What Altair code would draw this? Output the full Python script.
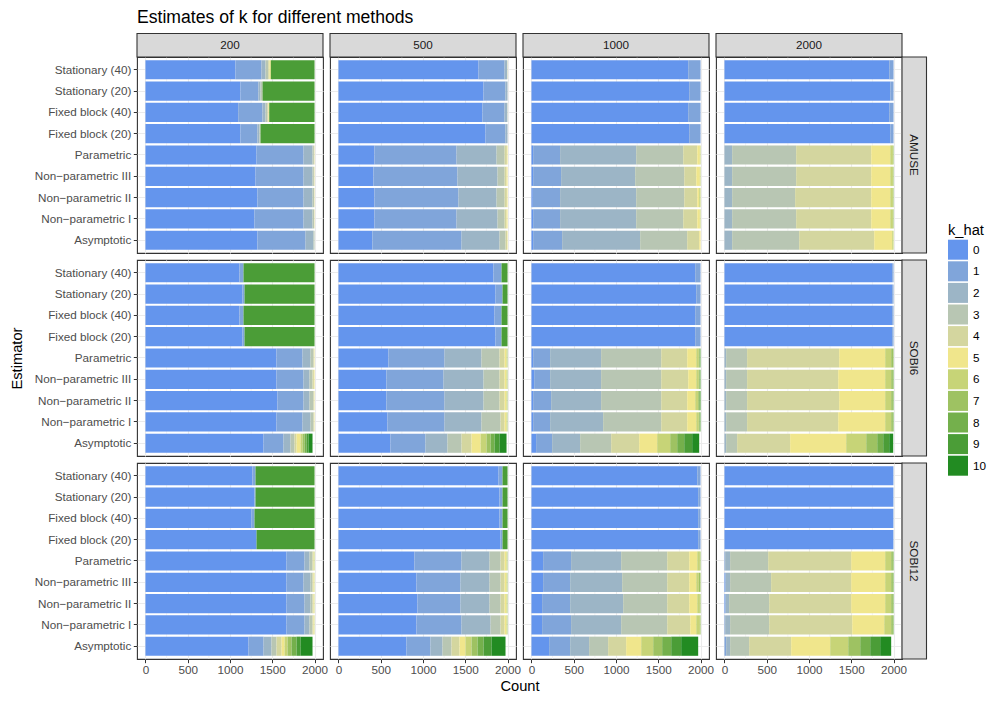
import altair as alt
import pandas as pd

FONT = "Liberation Sans"

METHODS = ["AMUSE", "SOBI6", "SOBI12"]
SIZES = ["200", "500", "1000", "2000"]
ESTIMATORS = ["Stationary (40)", "Stationary (20)", "Fixed block (40)", "Fixed block (20)",
              "Parametric", "Non\u2212parametric III", "Non\u2212parametric II",
              "Non\u2212parametric I", "Asymptotic"]
K_HAT = list(range(11))
COLORS = ["#6495ED", "#80A5DA", "#9CB5C6", "#B8C6B3", "#D4D69F", "#F0E68C",
          "#C7D477", "#9EC262", "#74B04C", "#4B9D37", "#228B22"]
X_TICKS = [0, 500, 1000, 1500, 2000]
MINOR_TICKS = [250, 750, 1250, 1750]

# counts of k_hat = 0..10, rows in ESTIMATORS order
AMUSE_200 = [
    [1065, 308, 47, 32, 15, 16, 0, 0, 0, 517, 0],
    [1124, 213, 24, 24, 0, 0, 0, 0, 0, 615, 0],
    [1097, 288, 35, 24, 10, 10, 0, 0, 0, 536, 0],
    [1124, 201, 24, 12, 0, 0, 0, 0, 0, 639, 0],
    [1314, 556, 106, 16, 6, 2],
    [1302, 568, 106, 16, 6, 2],
    [1325, 545, 106, 18, 4, 2],
    [1290, 580, 106, 18, 4, 2],
    [1325, 569, 94, 12],
]
AMUSE_500 = [
    [1657, 308, 29, 4, 2],
    [1716, 260, 24],
    [1704, 261, 31, 4],
    [1740, 236, 24],
    [426, 971, 473, 95, 27, 8],
    [414, 994, 474, 83, 23, 12],
    [426, 994, 450, 95, 27, 8],
    [426, 971, 485, 83, 23, 12],
    [402, 1054, 449, 71, 18, 6],
]
AMUSE_1000 = [
    [1854, 146],
    [1866, 134],
    [1854, 146],
    [1866, 134],
    [20, 319, 900, 556, 166, 31, 8],
    [20, 331, 876, 580, 142, 43, 8],
    [16, 323, 900, 568, 154, 23, 16],
    [20, 319, 900, 556, 166, 31, 8],
    [20, 343, 923, 556, 142, 16],
]
AMUSE_2000 = [
    [1949, 51],
    [1961, 39],
    [1949, 51],
    [1961, 39],
    [0, 0, 91, 757, 888, 225, 31, 8],
    [0, 0, 91, 757, 888, 225, 31, 8],
    [0, 0, 91, 745, 900, 225, 31, 8],
    [0, 0, 91, 757, 888, 225, 31, 8],
    [0, 0, 91, 793, 887, 213, 16],
]
SOBI6_200 = [
    [1112, 48, 0, 0, 0, 0, 0, 0, 0, 840, 0],
    [1148, 24, 0, 0, 0, 0, 0, 0, 0, 828, 0],
    [1112, 48, 0, 0, 0, 0, 0, 0, 0, 840, 0],
    [1148, 24, 0, 0, 0, 0, 0, 0, 0, 828, 0],
    [1550, 308, 95, 35, 8, 4],
    [1550, 320, 71, 35, 16, 8],
    [1562, 308, 71, 47, 8, 4],
    [1550, 308, 95, 35, 8, 4],
    [1397, 236, 83, 47, 24, 47, 24, 24, 23, 24, 47],
]
SOBI6_500 = [
    [1834, 95, 0, 0, 0, 0, 0, 0, 0, 71, 0],
    [1858, 83, 0, 0, 0, 0, 0, 0, 0, 59, 0],
    [1846, 83, 0, 0, 0, 0, 0, 0, 0, 71, 0],
    [1858, 71, 0, 0, 0, 0, 0, 0, 0, 71, 0],
    [592, 663, 437, 213, 60, 23, 8, 4],
    [568, 675, 473, 189, 60, 23, 8, 4],
    [568, 687, 461, 189, 60, 23, 8, 4],
    [580, 675, 437, 225, 48, 23, 8, 4],
    [615, 415, 260, 166, 118, 107, 71, 47, 47, 59, 83],
]
SOBI6_1000 = [
    [1937, 63],
    [1949, 51],
    [1937, 63],
    [1937, 63],
    [20, 201, 603, 711, 307, 107, 31, 8, 8, 4],
    [32, 189, 603, 711, 319, 95, 31, 8, 8, 4],
    [20, 213, 591, 711, 307, 95, 35, 12, 8, 8],
    [20, 201, 627, 687, 307, 107, 31, 8, 8, 4],
    [55, 190, 331, 367, 331, 213, 154, 83, 83, 94, 83],
]
SOBI6_2000 = [
    [1984, 16],
    [1984, 16],
    [1984, 16],
    [1984, 16],
    [0, 0, 20, 248, 1089, 544, 71, 24, 4],
    [0, 0, 20, 248, 1077, 556, 71, 20, 8],
    [0, 0, 20, 248, 1089, 544, 71, 20, 8],
    [0, 0, 20, 248, 1077, 556, 71, 20, 8],
    [0, 0, 20, 130, 627, 663, 237, 130, 71, 71, 47],
]
SOBI12_200 = [
    [1266, 36, 0, 0, 0, 0, 0, 0, 0, 698, 0],
    [1290, 12, 0, 0, 0, 0, 0, 0, 0, 698, 0],
    [1255, 35, 0, 0, 0, 0, 0, 0, 0, 710, 0],
    [1314, 0, 0, 0, 0, 0, 0, 0, 0, 686, 0],
    [1669, 213, 59, 35, 12, 4, 8],
    [1669, 201, 83, 23, 12, 8, 4],
    [1669, 213, 71, 23, 12, 8, 4],
    [1669, 213, 59, 35, 12, 8, 4],
    [1219, 178, 94, 59, 60, 35, 36, 47, 59, 47, 142],
]
SOBI12_500 = [
    [1894, 47, 0, 0, 0, 0, 0, 0, 0, 59, 0],
    [1905, 36, 0, 0, 0, 0, 0, 0, 0, 59, 0],
    [1905, 36, 0, 0, 0, 0, 0, 0, 0, 59, 0],
    [1917, 24, 0, 0, 0, 0, 0, 0, 0, 59, 0],
    [899, 557, 331, 130, 48, 23, 8, 4],
    [923, 521, 343, 130, 48, 23, 8, 4],
    [935, 509, 343, 130, 48, 23, 8, 4],
    [923, 533, 343, 118, 48, 23, 8, 4],
    [805, 284, 142, 106, 95, 71, 71, 71, 71, 95, 165],
]
SOBI12_1000 = [
    [1961, 39],
    [1972, 28],
    [1972, 28],
    [1972, 28],
    [138, 331, 592, 545, 260, 95, 31, 8],
    [138, 320, 615, 533, 260, 83, 31, 20],
    [126, 332, 627, 521, 260, 95, 31, 8],
    [126, 343, 592, 545, 272, 71, 43, 8],
    [209, 249, 224, 225, 213, 178, 142, 106, 107, 118, 201],
]
SOBI12_2000 = [
    [1996, 4],
    [1996, 4],
    [1996, 4],
    [1996, 4],
    [0, 8, 59, 450, 982, 402, 71, 20, 8],
    [8, 8, 51, 485, 947, 402, 71, 20, 8],
    [8, 8, 39, 474, 970, 402, 71, 20, 8],
    [0, 8, 59, 462, 982, 379, 82, 20, 8],
    [0, 20, 47, 225, 497, 462, 213, 142, 118, 118, 130],
]

PANELS = {
    ("AMUSE", "200"): AMUSE_200, ("AMUSE", "500"): AMUSE_500,
    ("AMUSE", "1000"): AMUSE_1000, ("AMUSE", "2000"): AMUSE_2000,
    ("SOBI6", "200"): SOBI6_200, ("SOBI6", "500"): SOBI6_500,
    ("SOBI6", "1000"): SOBI6_1000, ("SOBI6", "2000"): SOBI6_2000,
    ("SOBI12", "200"): SOBI12_200, ("SOBI12", "500"): SOBI12_500,
    ("SOBI12", "1000"): SOBI12_1000, ("SOBI12", "2000"): SOBI12_2000,
}

records = []
for (m, n), rows in PANELS.items():
    for est, counts in zip(ESTIMATORS, rows):
        for k, c in enumerate(counts):
            if c > 0:
                records.append({"method": m, "n": n, "Estimator": est, "k_hat": k, "Count": c})
df = pd.DataFrame(records)

W, H, STRIP, GAP = 186, 196, 23.5, 7

legend = alt.Legend(title="k_hat", orient="none", legendX=811, legendY=166,
                    symbolType="square", symbolSize=400, symbolStrokeWidth=0,
                    rowPadding=1.6, titleFontSize=14.7, labelFontSize=11.7,
                    titleFont=FONT, labelFont=FONT, titleColor="black", labelColor="black",
                    titleFontWeight="normal", titlePadding=2, labelOffset=5, padding=0)


def make_panel(mi, ni):
    m, n = METHODS[mi], SIZES[ni]
    bottom = mi == len(METHODS) - 1
    left = ni == 0
    d = df[(df.method == m) & (df.n == n)]

    xkw = dict(values=X_TICKS, format="d", labels=bottom, ticks=bottom, domain=False,
               grid=True, gridColor="#EBEBEB", gridWidth=1.1, tickSize=3.7,
               tickColor="#333333", labelPadding=2, titlePadding=2)
    if bottom and ni == 1:
        xkw["title"] = "Count"
        xkw["titleX"] = 189.5
    else:
        xkw["title"] = None
    xaxis = alt.Axis(**xkw)
    xscale = alt.Scale(domain=[-100, 2100], nice=False, zero=False)

    ykw = dict(labels=left, ticks=left, domain=False, grid=True, gridColor="#EBEBEB",
               gridWidth=1.1, bandPosition=0.5, tickSize=3.7, tickColor="#333333",
               labelPadding=2.5, titlePadding=10)
    ykw["title"] = "Estimator" if (left and mi == 1) else None
    yaxis = alt.Axis(**ykw)

    minor = alt.Chart(pd.DataFrame({"minor": MINOR_TICKS})).mark_rule(
        color="#EBEBEB", strokeWidth=0.55
    ).encode(x=alt.X("minor:Q", scale=xscale, axis=xaxis))

    bars = alt.Chart(d).mark_bar().encode(
        x=alt.X("Count:Q", stack="zero", scale=xscale, axis=xaxis),
        y=alt.Y("Estimator:N", sort=ESTIMATORS,
                scale=alt.Scale(paddingInner=0.1, paddingOuter=0.15), axis=yaxis),
        color=alt.Color("k_hat:O", scale=alt.Scale(domain=K_HAT, range=COLORS), legend=legend),
        order=alt.Order("k_hat:Q", sort="ascending"),
    )
    layers = [minor, bars]

    if mi == 0:
        sdf = pd.DataFrame({"lab": [n]})
        layers.append(alt.Chart(sdf).mark_rect(fill="#D9D9D9", stroke="#333333", strokeWidth=1.1).encode(
            x=alt.value(0), x2=alt.value(W), y=alt.value(-STRIP), y2=alt.value(0)))
        layers.append(alt.Chart(sdf).mark_text(font=FONT, fontSize=11.7, color="#1A1A1A").encode(
            text="lab:N", x=alt.value(W / 2), y=alt.value(-STRIP / 2)))
    if ni == len(SIZES) - 1:
        rdf = pd.DataFrame({"lab": [m]})
        layers.append(alt.Chart(rdf).mark_rect(fill="#D9D9D9", stroke="#333333", strokeWidth=1.1).encode(
            x=alt.value(W), x2=alt.value(W + STRIP + 1), y=alt.value(0), y2=alt.value(H)))
        layers.append(alt.Chart(rdf).mark_text(font=FONT, fontSize=11.7, color="#1A1A1A", angle=90).encode(
            text="lab:N", x=alt.value(W + (STRIP + 1) / 2), y=alt.value(H / 2)))

    ch = alt.layer(*layers).properties(width=W, height=H)
    if mi == 0 and ni == 0:
        ch = ch.properties(title=alt.TitleParams(
            text="Estimates of k for different methods", anchor="start", frame="group",
            font=FONT, fontSize=17.6, fontWeight="normal", color="black", offset=6))
    return ch


panels = [make_panel(mi, ni) for mi in range(len(METHODS)) for ni in range(len(SIZES))]

chart = alt.concat(*panels, columns=4, spacing=GAP, bounds="flush",
                   padding={"left": 0, "top": 0, "right": 0, "bottom": 0}).configure_view(
    stroke="#333333", strokeWidth=1.1
).configure_axis(
    labelFont=FONT, titleFont=FONT, labelColor="#4D4D4D", labelFontSize=11.7,
    titleFontSize=14.7, titleColor="black", titleFontWeight="normal"
)

chart.save("out.html", embed_options={"renderer": "svg", "actions": False})
